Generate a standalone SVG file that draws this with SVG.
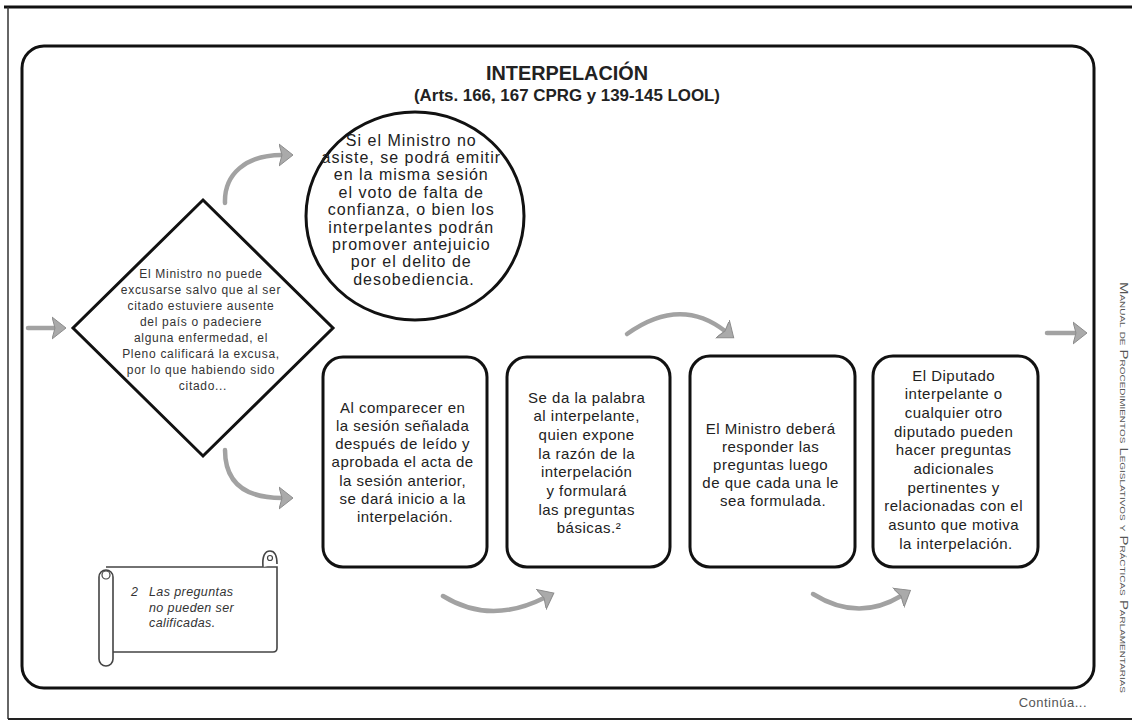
<svg xmlns="http://www.w3.org/2000/svg" width="1132" height="721" viewBox="0 0 1132 721">
<style>
.t{font-family:"Liberation Sans",Arial,Helvetica,sans-serif;fill:#222;text-anchor:middle}
.box{font-size:15px;letter-spacing:0.5px}
.circ{font-size:16px;letter-spacing:1px}
.dia{font-size:12px;letter-spacing:0.7px;fill:#333}
.shape{fill:#fff;stroke:#111;stroke-width:3}
.arr{fill:none;stroke:#a2a2a2;stroke-width:4.5;stroke-linecap:round;marker-end:url(#ah)}
.scroll{fill:#fff;stroke:#444;stroke-width:1.6}
.note{font-family:"Liberation Sans",Arial,sans-serif;font-size:12.5px;font-style:italic;letter-spacing:0.4px;fill:#333}
</style>
<defs>
<marker id="ah" markerUnits="userSpaceOnUse" markerWidth="16" markerHeight="24" viewBox="0 0 16 24" refX="3" refY="12" orient="auto">
<path d="M0,1 L14,12 L0,23 L3,12 Z" fill="#aaaaaa" stroke="#8c8c8c" stroke-width="1"/>
</marker>
</defs>
<rect width="1132" height="721" fill="#fff"/>
<g id="page-frame" fill="none">
<line x1="4" y1="7" x2="1132" y2="7" stroke="#111" stroke-width="3"/>
<line x1="8" y1="7" x2="8" y2="719" stroke="#333" stroke-width="1.5"/>
<line x1="8" y1="719" x2="1132" y2="719" stroke="#222" stroke-width="2"/>
</g>
<g id="main-frame">
<rect x="22" y="46" width="1072" height="642" rx="22" fill="none" stroke="#111" stroke-width="3"/>
</g>
<g id="title">
<text class="t" x="567" y="80" font-size="21" font-weight="bold" textLength="162" lengthAdjust="spacingAndGlyphs">INTERPELACIÓN</text>
<text class="t" x="567" y="100.5" font-size="16.5" font-weight="bold" textLength="306" lengthAdjust="spacingAndGlyphs">(Arts. 166, 167 CPRG y 139-145 LOOL)</text>
</g>
<g id="connectors">
<path class="arr" d="M28,328 H55"/>
<path class="arr" d="M225,203 C224,174 246,155 282,155"/>
<path class="arr" d="M225,450 C225,484 246,498 282,498"/>
<path class="arr" d="M443,596 Q490,625 544,598"/>
<path class="arr" d="M627,334 Q680,296 725,331"/>
<path class="arr" d="M813,594 Q858,622 901,596"/>
<path class="arr" d="M1047,333 H1076"/>
</g>
<g id="node-diamond">
<polygon class="shape" points="203,200 333,328 203,456 73,328"/>
<text class="t dia" y="277.5">
<tspan x="203">El Ministro no puede</tspan>
<tspan x="203" dy="16">excusarse salvo que al ser</tspan>
<tspan x="203" dy="16">citado estuviere ausente</tspan>
<tspan x="203" dy="16">del país o padeciere</tspan>
<tspan x="203" dy="16">alguna enfermedad, el</tspan>
<tspan x="203" dy="16">Pleno calificará la excusa,</tspan>
<tspan x="203" dy="16">por lo que habiendo sido</tspan>
<tspan x="203" dy="16">citado...</tspan>
</text>
</g>
<g id="node-circle">
<ellipse class="shape" cx="415" cy="216" rx="109" ry="104"/>
<text class="t circ" y="145.5">
<tspan x="414">Si el Ministro no</tspan>
<tspan x="414" dy="17.4">asiste, se podrá emitir</tspan>
<tspan x="414" dy="17.4">en la misma sesión</tspan>
<tspan x="414" dy="17.4">el voto de falta de</tspan>
<tspan x="414" dy="17.4">confianza, o bien los</tspan>
<tspan x="414" dy="17.4">interpelantes podrán</tspan>
<tspan x="414" dy="17.4">promover antejuicio</tspan>
<tspan x="414" dy="17.4">por el delito de</tspan>
<tspan x="414" dy="17.4">desobediencia.</tspan>
</text>
</g>
<g id="node-box1">
<rect class="shape" x="323" y="357" width="164" height="210" rx="20"/>
<text class="t box" y="412.5">
<tspan x="405">Al comparecer en</tspan>
<tspan x="405" dy="18.3">la sesión señalada</tspan>
<tspan x="405" dy="18.3">después de leído y</tspan>
<tspan x="405" dy="18.3">aprobada el acta de</tspan>
<tspan x="405" dy="18.3">la sesión anterior,</tspan>
<tspan x="405" dy="18.3">se dará inicio a la</tspan>
<tspan x="405" dy="18.3">interpelación.</tspan>
</text>
</g>
<g id="node-box2">
<rect class="shape" x="507" y="357" width="163" height="210" rx="20"/>
<text class="t box" y="402.5">
<tspan x="589">Se da la palabra</tspan>
<tspan x="589" dy="18.7">al interpelante,</tspan>
<tspan x="589" dy="18.7">quien expone</tspan>
<tspan x="589" dy="18.7">la razón de la</tspan>
<tspan x="589" dy="18.7">interpelación</tspan>
<tspan x="589" dy="18.7">y formulará</tspan>
<tspan x="589" dy="18.7">las preguntas</tspan>
<tspan x="589" dy="18.7">básicas.²</tspan>
</text>
</g>
<g id="node-box3">
<rect class="shape" x="690" y="356" width="165" height="211" rx="20"/>
<text class="t box" y="433.5">
<tspan x="773">El Ministro deberá</tspan>
<tspan x="773" dy="18">responder las</tspan>
<tspan x="773" dy="18">preguntas luego</tspan>
<tspan x="773" dy="18">de que cada una le</tspan>
<tspan x="773" dy="18">sea formulada.</tspan>
</text>
</g>
<g id="node-box4">
<rect class="shape" x="873" y="356" width="165" height="211" rx="20"/>
<text class="t box" y="380.5">
<tspan x="956">El Diputado</tspan>
<tspan x="956" dy="18.67">interpelante o</tspan>
<tspan x="956" dy="18.67">cualquier otro</tspan>
<tspan x="956" dy="18.67">diputado pueden</tspan>
<tspan x="956" dy="18.67">hacer preguntas</tspan>
<tspan x="956" dy="18.67">adicionales</tspan>
<tspan x="956" dy="18.67">pertinentes y</tspan>
<tspan x="956" dy="18.67">relacionadas con el</tspan>
<tspan x="956" dy="18.67">asunto que motiva</tspan>
<tspan x="956" dy="18.67">la interpelación.</tspan>
</text>
</g>
<g id="node-note">
<path class="scroll" d="M106,567 H277 V648 Q277,652 273,652 H110"/>
<path class="scroll" d="M263,567 C262,556 265,551 270,551 C275,551 277,556 277,564"/>
<circle cx="270" cy="558" r="2.5" fill="none" stroke="#444" stroke-width="1.2"/>
<rect class="scroll" x="99" y="570" width="14" height="96" rx="7"/>
<circle cx="106" cy="575" r="4" fill="none" stroke="#444" stroke-width="1.2"/>
<text class="note" x="131" y="596">2</text>
<text class="note" y="596">
<tspan x="149">Las preguntas</tspan>
<tspan x="149" dy="15.5">no pueden ser</tspan>
<tspan x="149" dy="15.5">calificadas.</tspan>
</text>
</g>
<g id="side-text">
<text transform="translate(1119.5,282) rotate(90)" font-family="'Liberation Sans',Arial,sans-serif" font-size="10.5" font-variant="small-caps" fill="#555" textLength="411" lengthAdjust="spacingAndGlyphs">Manual de Procedimientos Legislativos y Prácticas Parlamentarias</text>
</g>
<g id="footer">
<text x="1087" y="707" font-family="'Liberation Sans',Arial,sans-serif" font-size="13" letter-spacing="0.5" fill="#555" text-anchor="end">Continúa...</text>
</g>
</svg>
